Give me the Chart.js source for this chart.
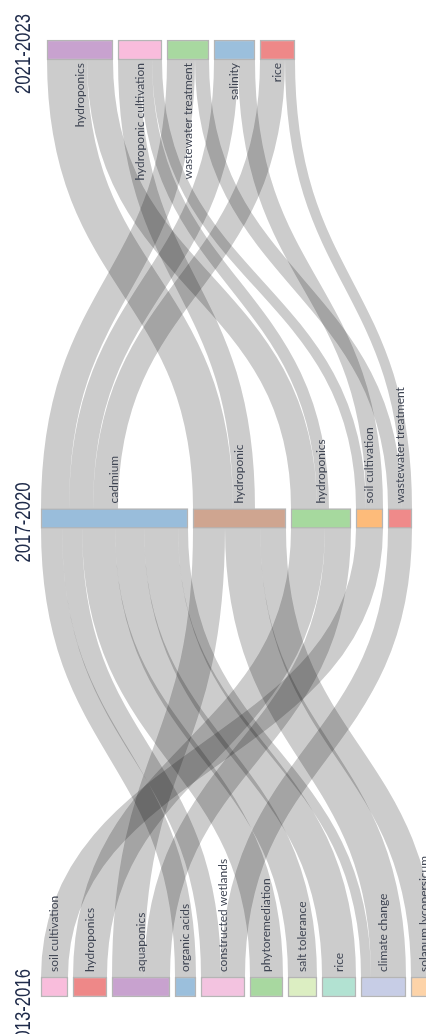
<!DOCTYPE html>
<html>
<head>
<meta charset="utf-8">
<script src="https://cdn.jsdelivr.net/npm/chart.js@4.4.1/dist/chart.umd.min.js"></script>
<style>
  html, body { margin: 0; padding: 0; background: #fff; }
  #wrap { width: 426px; height: 1034px; position: relative; }
</style>
</head>
<body>
<div id="wrap"><canvas id="evo"></canvas></div>
<script>
// periods, bottom to top
const periods = ["2013-2016", "2017-2020", "2021-2023"];

// themes of each period, in drawing order
const themes1316 = ["soil cultivation", "hydroponics", "aquaponics", "organic acids", "constructed wetlands",
  "phytoremediation", "salt tolerance", "rice", "climate change", "solanum lycopersicum"];
const themes1720 = ["cadmium", "hydroponic", "hydroponics", "soil cultivation", "wastewater treatment"];
const themes2123 = ["hydroponics", "hydroponic cultivation", "wastewater treatment", "salinity", "rice"];

// flows [from, to, weight]
const flows1316to1720 = [
  ["soil cultivation", "soil cultivation", 27],
  ["hydroponics", "hydroponics", 34],
  ["aquaponics", "hydroponic", 32],
  ["aquaponics", "hydroponics", 26],
  ["organic acids", "cadmium", 21],
  ["constructed wetlands", "cadmium", 20],
  ["constructed wetlands", "wastewater treatment", 24],
  ["phytoremediation", "cadmium", 33],
  ["salt tolerance", "cadmium", 29],
  ["rice", "cadmium", 34],
  ["climate change", "cadmium", 10],
  ["climate change", "hydroponic", 35],
  ["solanum lycopersicum", "hydroponic", 26]
];
const flows1720to2123 = [
  ["cadmium", "wastewater treatment", 28],
  ["cadmium", "salinity", 24],
  ["cadmium", "rice", 25],
  ["hydroponic", "hydroponics", 40],
  ["hydroponic", "hydroponic cultivation", 22],
  ["hydroponics", "hydroponics", 26],
  ["hydroponics", "hydroponic cultivation", 12],
  ["soil cultivation", "hydroponic cultivation", 10],
  ["soil cultivation", "salinity", 17],
  ["wastewater treatment", "wastewater treatment", 14],
  ["wastewater treatment", "rice", 10]
];

// node colours
const colors1316 = ["#f9bddc", "#ee8888", "#c8a2cf", "#9bbfdc", "#f3c3e0",
  "#a8d8a0", "#dceec2", "#b2e2d2", "#c7cde6", "#fdd3a8"];
const colors1720 = ["#99bddb", "#cfa590", "#a6d99e", "#fdbb7a", "#ef8a8a"];
const colors2123 = ["#c8a2cf", "#f9bcdc", "#a8d8a0", "#9bbfdc", "#ee8888"];

// ---- sankey layout (value units) ----
const columns = [themes1316, themes1720, themes2123];
const colorCols = [colors1316, colors1720, colors2123];
const linkSets = [flows1316to1720, flows1720to2123];
const gap = 5;
const colShift = [0, 0, 6];

const sumOf = (arr) => arr.reduce((a, f) => a + f[2], 0);

const nodes = columns.map((names, c) => names.map((name, i) => {
  const out = c < linkSets.length ? sumOf(linkSets[c].filter(f => f[0] === name)) : 0;
  const inn = c > 0 ? sumOf(linkSets[c - 1].filter(f => f[1] === name)) : 0;
  return { name, col: c, value: Math.max(out, inn), color: colorCols[c][i] };
}));
nodes.forEach((col, c) => {
  let pos = colShift[c];
  col.forEach(n => { n.start = pos; n.end = pos + n.value; pos = n.end + gap; });
});
const allNodes = nodes.flat();

const links = [];
linkSets.forEach((set, c) => {
  const src = nodes[c], tgt = nodes[c + 1];
  const ls = set.map(([f, t, v]) => ({
    s: src.find(n => n.name === f), t: tgt.find(n => n.name === t), v, col: c
  }));
  src.forEach(n => {
    let p = n.start;
    ls.filter(l => l.s === n).sort((a, b) => a.t.start - b.t.start).forEach(l => { l.s0 = p; p += l.v; });
  });
  tgt.forEach(n => {
    let p = n.start;
    ls.filter(l => l.t === n).sort((a, b) => a.s.start - b.s.start).forEach(l => { l.t0 = p; p += l.v; });
  });
  links.push(...ls);
});

const NODE_PX = 20;

// links under the nodes
const flowPlugin = {
  id: "flows",
  beforeDatasetsDraw(chart) {
    const { ctx, scales: { x, y } } = chart;
    ctx.save();
    ctx.strokeStyle = "rgba(0,0,0,0.2)";
    links.forEach(l => {
      const w = x.getPixelForValue(l.v) - x.getPixelForValue(0);
      const xs = x.getPixelForValue(l.s0 + l.v / 2);
      const xt = x.getPixelForValue(l.t0 + l.v / 2);
      const ys = y.getPixelForValue(l.col) - NODE_PX / 2;
      const yt = y.getPixelForValue(l.col + 1) + NODE_PX / 2;
      const ym = (ys + yt) / 2;
      ctx.lineWidth = w;
      ctx.beginPath();
      ctx.moveTo(xs, ys);
      ctx.bezierCurveTo(xs, ym, xt, ym, xt, yt);
      ctx.stroke();
    });
    ctx.restore();
  }
};

// rotated theme names and period titles
const labelPlugin = {
  id: "labels",
  afterDatasetsDraw(chart) {
    const { ctx, scales: { x, y }, chartArea } = chart;
    ctx.save();
    ctx.font = '12px Lato, "Open Sans", sans-serif';
    ctx.fillStyle = "#3f4553";
    ctx.textBaseline = "middle";
    allNodes.forEach(n => {
      const cx = x.getPixelForValue((n.start + n.end) / 2);
      const cy = y.getPixelForValue(n.col);
      ctx.save();
      ctx.translate(cx, cy);
      ctx.rotate(-Math.PI / 2);
      if (n.col < 2) {
        ctx.textAlign = "left";
        ctx.fillText(n.name, NODE_PX / 2 + 5, 0);
      } else {
        ctx.textAlign = "right";
        ctx.fillText(n.name, -NODE_PX / 2 - 3, 0);
      }
      ctx.restore();
    });

    // narrow period titles
    ctx.font = '22px "Liberation Sans", sans-serif';
    ctx.fillStyle = "#1f2b4a";
    ctx.textAlign = "center";
    periods.forEach((p, c) => {
      ctx.save();
      ctx.translate(chartArea.left - 17, y.getPixelForValue(c) + (c === 0 ? 22 : 4));
      ctx.rotate(-Math.PI / 2);
      ctx.scale(0.76, 1);
      ctx.fillText(p, 0, 0);
      ctx.restore();
    });
    ctx.restore();
  }
};

new Chart(document.getElementById("evo"), {
  type: "bar",
  data: {
    datasets: [{
      data: allNodes.map(n => ({ x: [n.start, n.end], y: n.col })),
      backgroundColor: allNodes.map(n => n.color),
      borderColor: "rgba(90,90,90,0.45)",
      borderWidth: 1.5,
      borderSkipped: false,
      barThickness: NODE_PX,
      clip: false
    }]
  },
  options: {
    indexAxis: "y",
    responsive: true,
    maintainAspectRatio: false,
    animation: false,
    layout: { padding: { left: 41, right: 0, top: 50, bottom: 47 } },
    scales: {
      x: { type: "linear", min: 0, max: 385, display: false },
      y: { type: "linear", min: 0, max: 2, display: false, offset: false }
    },
    plugins: {
      legend: { display: false },
      tooltip: { enabled: false }
    }
  },
  plugins: [flowPlugin, labelPlugin]
});
</script>
</body>
</html>
